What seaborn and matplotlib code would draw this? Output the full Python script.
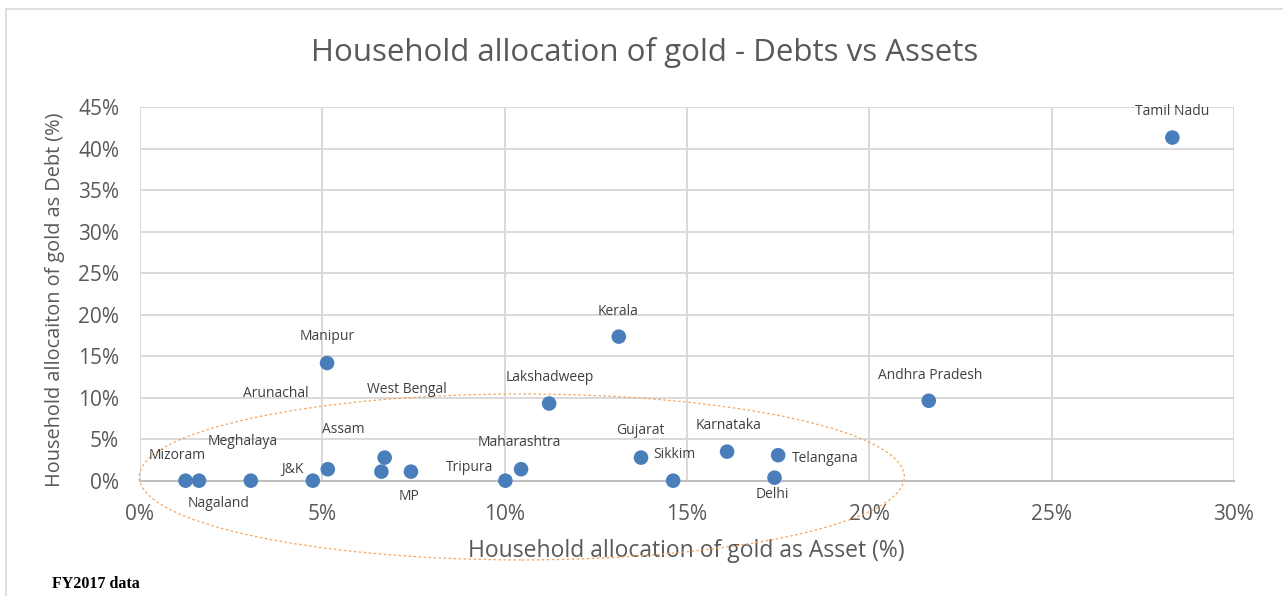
import pandas as pd
import matplotlib.pyplot as plt
import seaborn as sns
from matplotlib.patches import Ellipse
from matplotlib.lines import Line2D
from matplotlib.ticker import PercentFormatter, MultipleLocator

# -------------------- DATA --------------------
states = [
    "Mizoram", "Nagaland", "Meghalaya", "J&K", "Arunachal", "Assam",
    "West Bengal", "MP", "Manipur", "Tripura", "Maharashtra", "Lakshadweep",
    "Kerala", "Gujarat", "Sikkim", "Karnataka", "Delhi", "Telangana",
    "Andhra Pradesh", "Tamil Nadu",
]
asset_pct = [1.25, 1.62, 3.04, 4.74, 5.15, 6.71, 6.62, 7.43, 5.13, 10.02,
             10.45, 11.22, 13.13, 13.74, 14.62, 16.10, 17.40, 17.50, 21.63, 28.31]
debt_pct = [0.0, 0.0, 0.0, 0.0, 1.38, 2.78, 1.09, 1.09, 14.18, 0.0,
            1.38, 9.30, 17.36, 2.78, 0.0, 3.50, 0.36, 3.07, 9.63, 41.35]

# label offsets in pixels (labels were dragged around by hand in the original)
label_dx = [-8, 20, -8, -21, -52, -41, 25, -2, 0, -36,
            -2, 1, -1, -1, 1, 1, -2, 47, 1, 0]
label_dy = [25, -23, 39, 11, 76, 28, 82, -25, 27, 13,
            27, 26, 25, 27, 26, 26, -17, -3, 25, 26]

df = pd.DataFrame({"State": states, "Asset": asset_pct, "Debt": debt_pct})

# -------------------- STYLE --------------------
sns.set_theme(style="white")
plt.rcParams["font.family"] = ["Open Sans", "DejaVu Sans"]

grey_text = "#595959"
grid_col = "#d9d9d9"
dot_col = "#4a7ebb"

fig = plt.figure(figsize=(12.83, 5.96), dpi=100)
ax = fig.add_axes([0.1091, 0.1935, 0.8527, 0.6265])

sns.scatterplot(data=df, x="Asset", y="Debt", s=110, color=dot_col,
                edgecolor="none", ax=ax, zorder=3, clip_on=False)

for name, x, y, dx, dy in zip(states, asset_pct, debt_pct, label_dx, label_dy):
    ax.annotate(name, (x, y), xytext=(dx, dy), textcoords="offset pixels",
                ha="center", va="center", fontsize=10, color="#404040")

# -------------------- AXES --------------------
ax.set_xlim(0, 30)
ax.set_ylim(0, 45)
ax.xaxis.set_major_locator(MultipleLocator(5))
ax.yaxis.set_major_locator(MultipleLocator(5))
ax.xaxis.set_major_formatter(PercentFormatter(decimals=0))
ax.yaxis.set_major_formatter(PercentFormatter(decimals=0))
ax.grid(True, color=grid_col, lw=1.4)
ax.set_axisbelow(True)
for side in ["top", "right", "left"]:
    ax.spines[side].set_visible(False)
ax.spines["bottom"].set_color("#bfbfbf")
ax.spines["bottom"].set_linewidth(1.5)
ax.spines["bottom"].set_zorder(2)
ax.tick_params(axis="both", length=0, labelsize=15, labelcolor=grey_text)
ax.tick_params(axis="x", pad=17)
ax.tick_params(axis="y", pad=15)

ax.set_xlabel("Household allocation of gold as Asset (%)", fontsize=16.5, color=grey_text)
ax.set_ylabel("Household allocaiton of gold as Debt (%)", fontsize=14.3, color=grey_text)
ax.xaxis.label.set_va("center")
ax.yaxis.label.set_va("center")
ax.xaxis.set_label_coords(0.499, -0.188)
ax.yaxis.set_label_coords(-0.0777, 0.484)

# dashed ellipse highlighting the low-debt cluster
ell = Ellipse((10.47, 0.45), 20.98, 20.0, fill=False, edgecolor="#f4a460",
              linestyle=(0, (2, 2)), lw=0.9, clip_on=False, zorder=2)
ax.add_patch(ell)

fig.text(645 / 1283, 1 - 52 / 596, "Household allocation of gold - Debts vs Assets",
         ha="center", va="center", fontsize=22.5, color=grey_text)
fig.text(52 / 1283, 1 - 584 / 596, "FY2017 data", ha="left", va="center",
         fontsize=11.5, fontweight="bold", family="Liberation Serif", color="black")

# chart frame
fig.add_artist(Line2D([6 / 1283, 6 / 1283], [0, 1 - 9 / 596], color=grid_col, lw=1.2))
fig.add_artist(Line2D([6 / 1283, 1], [1 - 9 / 596, 1 - 9 / 596], color=grid_col, lw=1.2))

fig.savefig("out.png", dpi=100)
